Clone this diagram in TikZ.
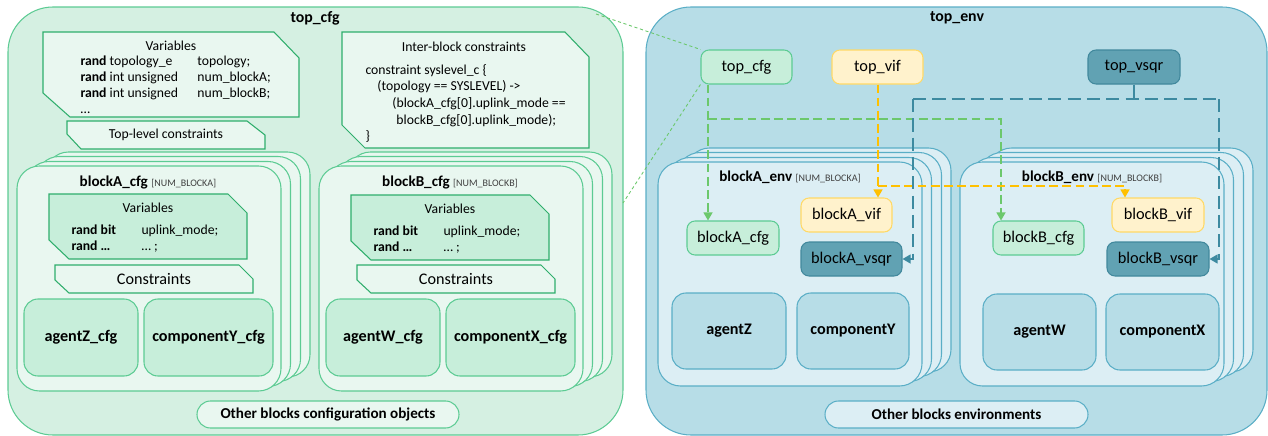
\documentclass[tikz,border=0pt]{standalone}
\usepackage{fontspec}
\setmainfont{Carlito}
\usetikzlibrary{arrows.meta, shadows}

\definecolor{cfgback}{HTML}{D5F0E2}
\definecolor{cfgline}{HTML}{5CCB93}
\definecolor{cfgcard}{HTML}{E9F7F0}
\definecolor{cfgmid}{HTML}{C7EEDA}
\definecolor{cfgedge}{HTML}{2FAE6C}
\definecolor{cfgarrow}{HTML}{6CC86C}
\definecolor{envback}{HTML}{B7DDE7}
\definecolor{envline}{HTML}{5AAEC6}
\definecolor{envcard}{HTML}{DCEEF4}
\definecolor{viffill}{HTML}{FFF2CC}
\definecolor{vifline}{HTML}{FFD966}
\definecolor{vifarrow}{HTML}{FFC000}
\definecolor{sqrfill}{HTML}{61A2B3}
\definecolor{sqrline}{HTML}{41889C}
\definecolor{sqrarrow}{HTML}{3D8AA0}
\definecolor{tagtext}{HTML}{404040}

\newcommand{\tagtxt}[1]{{\mdseries\fontsize{5.7}{7}\selectfont\color{tagtext}#1}}

\begin{document}
\begin{tikzpicture}[x=0.02cm, y=-0.02cm, line width=0.6pt,
        wh/.style 2 args={minimum width=#1*0.02cm, minimum height=#2*0.02cm, inner sep=0pt},
        area/.style={draw, rounded corners=0.9cm},
        stack/.style 2 args={draw=#1, fill=#2, rounded corners=0.45cm,
            copy shadow={shadow xshift=0.58cm, shadow yshift=0.28cm, draw=#1, fill=#2},
            copy shadow={shadow xshift=0.39cm, shadow yshift=0.19cm, draw=#1, fill=#2},
            copy shadow={shadow xshift=0.19cm, shadow yshift=0.09cm, draw=#1, fill=#2}},
        snip/.style={draw=cfgedge, line join=miter},
        unit/.style={draw, rounded corners=0.28cm, font=\fontsize{9.2}{11}\selectfont\bfseries},
        leaf/.style={draw, rounded corners=0.16cm, font=\fontsize{9.3}{11}\selectfont},
        pill/.style={draw, rounded corners=0.27cm, font=\fontsize{8.6}{10}\selectfont\bfseries},
        head/.style={font=\fontsize{9}{11}\selectfont\bfseries},
        subhead/.style={font=\fontsize{8.6}{10}\selectfont\bfseries},
        small/.style={font=\fontsize{7.8}{9.1}\selectfont},
        listing/.style={anchor=west, align=left, inner sep=0pt},
        zoomline/.style={draw=cfgarrow, line width=0.5pt, dash pattern=on 1.8pt off 1.5pt},
        cfgwire/.style={draw=cfgarrow, line width=0.7pt, dash pattern=on 5pt off 2.5pt},
        vifwire/.style={draw=vifarrow, line width=0.7pt, dash pattern=on 5pt off 2.5pt},
        sqrwire/.style={draw=sqrarrow, line width=0.7pt, dash pattern=on 7.5pt off 3.5pt},
        arrowtip/.style={-{Triangle[length=1.6mm, width=1.8mm]}}]
    \useasboundingbox (0,0) rectangle (1268,436);

    % configuration objects
    \node[area, draw=cfgline, fill=cfgback, wh={615}{428}] (cfgtop) at (315.5,221) {};
    \node[head] (cfgname) at (315,18) {top\_cfg};
    \draw[snip, fill=cfgcard] (43,32) -- (274,32) -- (299,58) -- (299,117) -- (70,117) -- (43,93) -- cycle;
    \node[small] (topvarsname) at (171,46) {Variables};
    \node[small, listing] (topvarlist) at (80,85)
        {\makebox[2.34cm][l]{\textbf{rand} topology\_e}topology;\\
         \makebox[2.34cm][l]{\textbf{rand} int unsigned}num\_blockA;\\
         \makebox[2.34cm][l]{\textbf{rand} int unsigned}num\_blockB;\\
         \dots};
    \draw[snip, fill=cfgcard] (67,121) -- (247,121) -- (265,135) -- (265,149) -- (81,149) -- (67,134) -- cycle;
    \node[small] (toplevel) at (166,135) {Top-level constraints};
    \draw[snip, fill=cfgcard] (342,32) -- (565,32) -- (589,57) -- (589,148) -- (365,148) -- (342,125) -- cycle;
    \node[small] (intername) at (464,47) {Inter-block constraints};
    \node[listing, font=\fontsize{7.8}{9.5}\selectfont] (syslevel) at (365,103.5)
        {constraint syslevel\_c \{\\
         \hspace*{6.8pt}(topology == SYSLEVEL) ->\\
         \hspace*{15.3pt}(blockA\_cfg[0].uplink\_mode ==\\
         \hspace*{17.6pt}blockB\_cfg[0].uplink\_mode);\\
         \}};

    % blockA_cfg array
    \node[stack={cfgline}{cfgcard}, wh={264}{225}] (acard) at (149,278.5) {};
    \node[subhead] (acardname) at (148,182) {blockA\_cfg \tagtxt{[NUM\_BLOCKA]}};
    \draw[snip, fill=cfgmid] (49,194) -- (228,194) -- (247,213) -- (247,259) -- (69,259) -- (49,240) -- cycle;
    \node[small] (avarsname) at (148,208) {Variables};
    \node[listing, font=\fontsize{7.8}{9.6}\selectfont] (avarlist) at (71,238.5)
        {\makebox[1.4cm][l]{\textbf{rand bit}}uplink\_mode;\\
         \makebox[1.4cm][l]{\textbf{rand \dots}}\dots\ ;};
    \draw[snip, fill=cfgcard] (55,265) -- (239,265) -- (253,279) -- (253,293) -- (69,293) -- (55,280) -- cycle;
    \node[font=\fontsize{9.2}{11}\selectfont] (acons) at (154,279) {Constraints};
    \node[unit, draw=cfgline, fill=cfgmid, wh={114}{77}] (agentzcfg) at (81,337.5) {agentZ\_cfg};
    \node[unit, draw=cfgline, fill=cfgmid, wh={129}{77}] (compycfg) at (208.5,337.5) {componentY\_cfg};

    % blockB_cfg array
    \node[stack={cfgline}{cfgcard}, wh={264}{225}] (bcard) at (451,278.5) {};
    \node[subhead] (bcardname) at (450,182) {blockB\_cfg \tagtxt{[NUM\_BLOCKB]}};
    \draw[snip, fill=cfgmid] (351,195) -- (530,195) -- (549,214) -- (549,260) -- (371,260) -- (351,241) -- cycle;
    \node[small] (bvarsname) at (450,209) {Variables};
    \node[listing, font=\fontsize{7.8}{9.6}\selectfont] (bvarlist) at (373,239.5)
        {\makebox[1.4cm][l]{\textbf{rand bit}}uplink\_mode;\\
         \makebox[1.4cm][l]{\textbf{rand \dots}}\dots\ ;};
    \draw[snip, fill=cfgcard] (357,265) -- (541,265) -- (555,279) -- (555,293) -- (371,293) -- (357,280) -- cycle;
    \node[font=\fontsize{9.2}{11}\selectfont] (bcons) at (456,279) {Constraints};
    \node[unit, draw=cfgline, fill=cfgmid, wh={114}{77}] (agentwcfg) at (383,337.5) {agentW\_cfg};
    \node[unit, draw=cfgline, fill=cfgmid, wh={129}{77}] (compxcfg) at (510.5,337.5) {componentX\_cfg};

    \node[pill, draw=cfgline, fill=cfgcard, wh={262}{27}] (cfgother) at (328,414.5) {Other blocks configuration objects};

    % environments
    \node[area, draw=envline, fill=envback, wh={621}{428}] (envtop) at (956.5,221) {};
    \node[head] (envname) at (957,18) {top\_env};
    \node[leaf, draw=cfgline, fill=cfgmid, wh={91}{34}] (topcfg) at (746.5,67) {top\_cfg};
    \node[leaf, draw=vifline, fill=viffill, wh={91}{34}] (topvif) at (877.5,67) {top\_vif};
    \node[leaf, draw=sqrline, fill=sqrfill, wh={92}{34}] (topvsqr) at (1134,67) {top\_vsqr};

    \node[stack={envline}{envcard}, wh={264}{224}] (aenv) at (790,274) {};
    \node[subhead] (aenvname) at (790,177) {blockA\_env \tagtxt{[NUM\_BLOCKA]}};
    \node[leaf, draw=cfgline, fill=cfgmid, wh={92}{34}] (acfg) at (733,238) {blockA\_cfg};
    \node[leaf, draw=vifline, fill=viffill, wh={91}{34}] (avif) at (846.5,215) {blockA\_vif};
    \node[leaf, draw=sqrline, fill=sqrfill, wh={101}{34}] (avsqr) at (851.5,259) {blockA\_vsqr};
    \node[unit, draw=envline, fill=envback, wh={114}{76}] (agentz) at (729,331) {agentZ};
    \node[unit, draw=envline, fill=envback, wh={112}{76}] (compy) at (853,331) {componentY};

    \node[stack={envline}{envcard}, wh={264}{224}] (benv) at (1092,274) {};
    \node[subhead] (benvname) at (1092,177) {blockB\_env \tagtxt{[NUM\_BLOCKB]}};
    \node[leaf, draw=cfgline, fill=cfgmid, wh={91}{34}] (bcfg) at (1038.5,238) {blockB\_cfg};
    \node[leaf, draw=vifline, fill=viffill, wh={92}{34}] (bvif) at (1158,215) {blockB\_vif};
    \node[leaf, draw=sqrline, fill=sqrfill, wh={102}{34}] (bvsqr) at (1158,259) {blockB\_vsqr};
    \node[unit, draw=envline, fill=envback, wh={113}{76}] (agentw) at (1039.5,332) {agentW};
    \node[unit, draw=envline, fill=envback, wh={113}{76}] (compx) at (1162.5,332) {componentX};

    \node[pill, draw=envline, fill=envcard, wh={263}{27}] (envother) at (956.5,414.5) {Other blocks environments};

    % top_cfg is the configuration box on the left
    \coordinate (zoomtop) at (596,14);
    \coordinate (zoombot) at (623,203);
    \draw[zoomline] (zoomtop) -- (topcfg.north west);
    \draw[zoomline] (topcfg.south west) -- (zoombot);

    % handles passed down to the block environments
    \coordinate (cfgsplit) at (708,119);
    \coordinate (cfgturn) at (1001,119);
    \draw[cfgwire, arrowtip] (topcfg.south -| cfgsplit) -- (cfgsplit |- acfg.north);
    \draw[cfgwire, arrowtip] (cfgsplit) -- (cfgturn) -- (cfgturn |- bcfg.north);

    \coordinate (vifsplit) at (878,186);
    \coordinate (vifturn) at (1125,186);
    \draw[vifwire, arrowtip] (topvif.south -| vifsplit) -- (vifsplit |- avif.north);
    \draw[vifwire, arrowtip] (vifsplit) -- (vifturn) -- (vifturn |- bvif.north);

    \coordinate (sqrleft) at (913,99);
    \coordinate (sqrright) at (1219,99);
    \draw[sqrarrow, line width=0.7pt] (topvsqr.south) -- (topvsqr.south |- sqrleft);
    \draw[sqrwire] (sqrleft) -- (sqrright);
    \draw[sqrwire, arrowtip] (sqrleft) |- (avsqr.east);
    \draw[sqrwire, arrowtip] (sqrright) |- (bvsqr.east);
\end{tikzpicture}
\end{document}
